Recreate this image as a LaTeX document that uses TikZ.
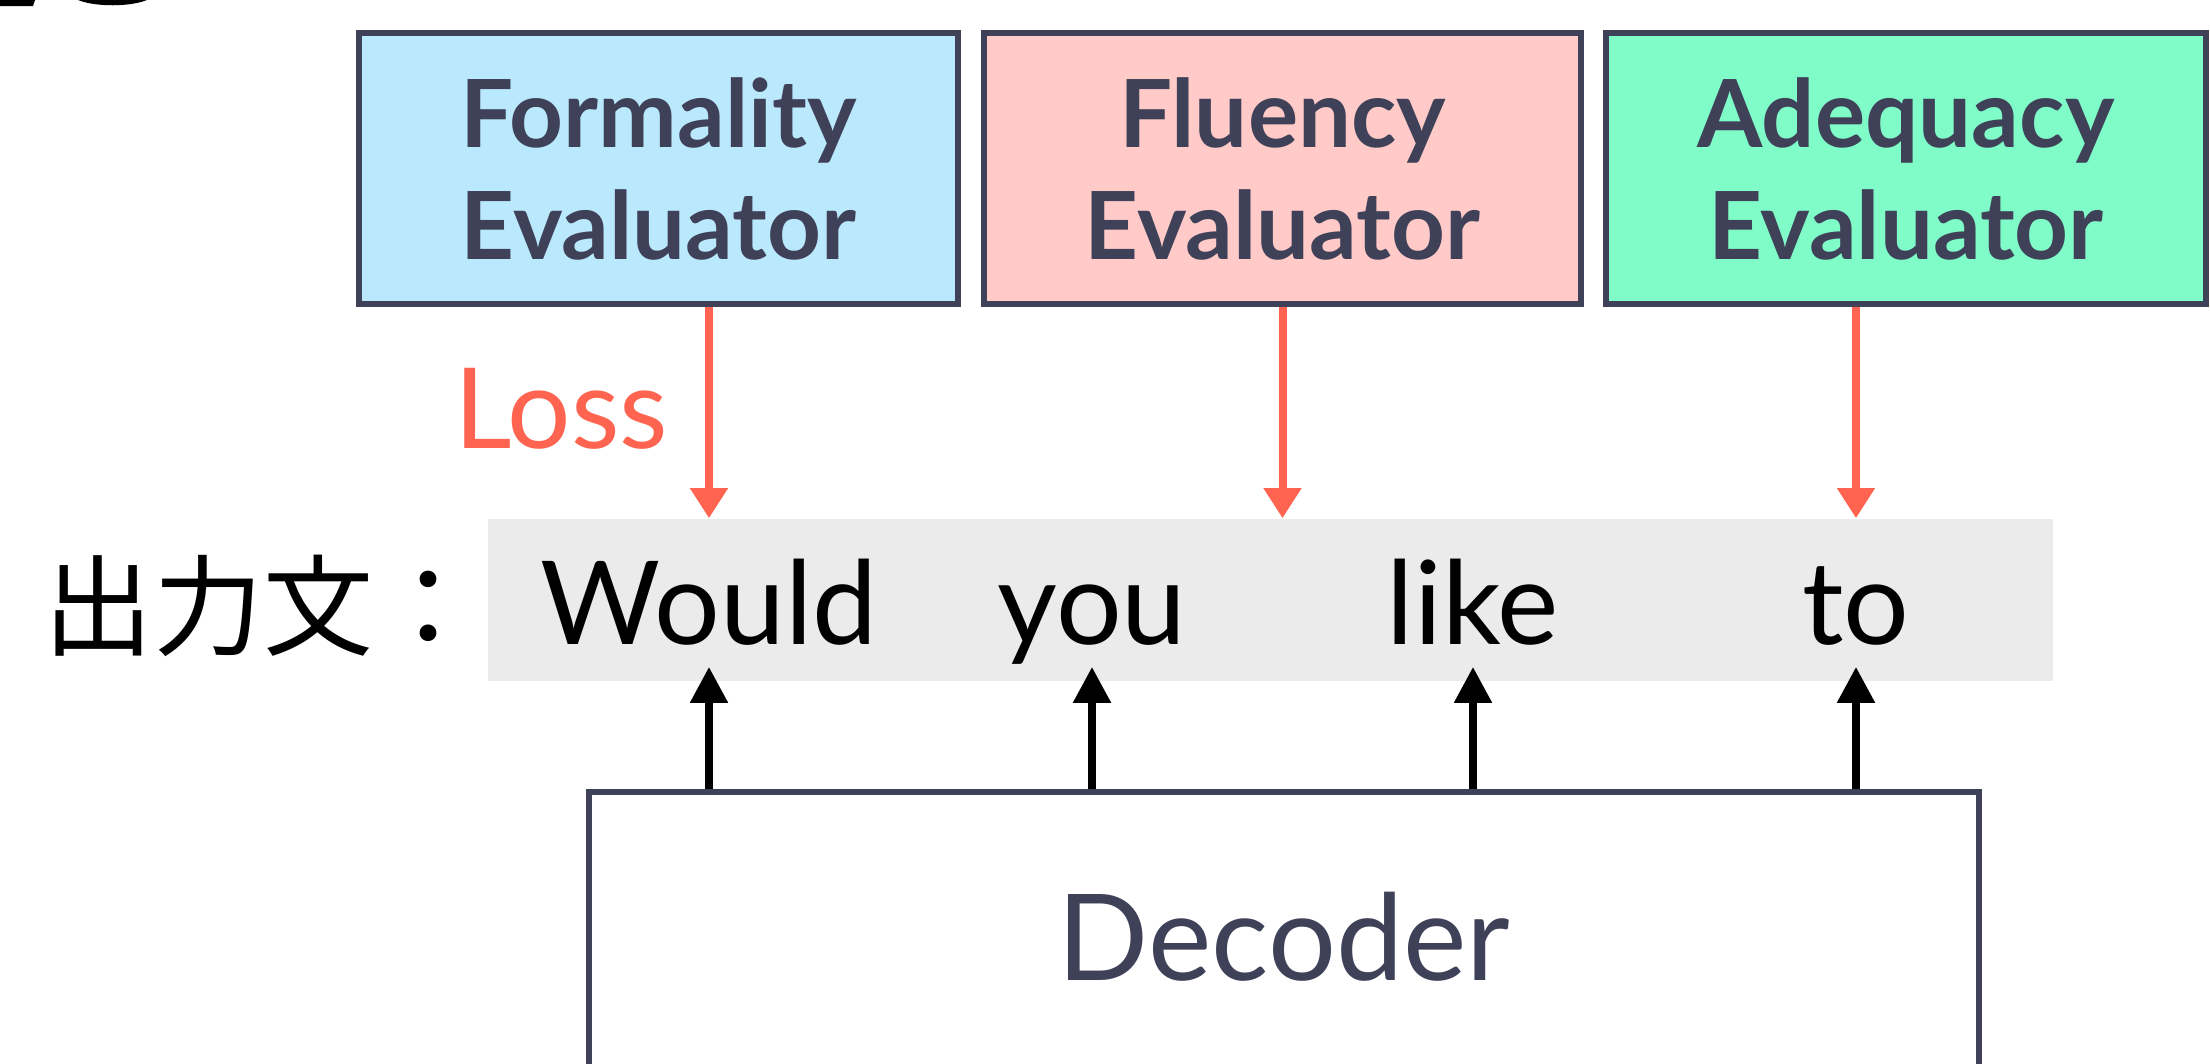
\documentclass[tikz,border=0pt]{standalone}
\usepackage{fontspec}
\setmainfont{Lato}
\newfontfamily\jpfont{Noto Sans CJK JP}
\usetikzlibrary{arrows.meta}
\definecolor{ink}{HTML}{3F4158}
\definecolor{lossred}{HTML}{FF6450}
\definecolor{formalc}{HTML}{BAE9FE}
\definecolor{fluentc}{HTML}{FFCAC7}
\definecolor{adeqc}{HTML}{80FCC8}
\definecolor{bandc}{HTML}{EBEBEB}
\tikzset{
  evalbox/.style={draw=ink, line width=1.5pt, text=ink, align=center, inner sep=0pt,
    minimum height=67.75pt, font=\fontsize{23.5}{28}\selectfont\bfseries},
  word/.style={anchor=base, inner sep=0pt, text=black, font=\fontsize{29}{34}\selectfont},
  lossarrow/.style={draw=lossred, line width=2pt, -{Triangle[width=9pt,length=7.5pt]}},
  outarrow/.style={draw=black, line width=2pt, -{Triangle[width=9pt,length=9pt]}},
}
\begin{document}
\begin{tikzpicture}[x=0.25pt,y=-0.25pt]
\useasboundingbox (0,0) rectangle (2210,1063);
\clip (0,0) rectangle (2210,1063);
% fragments at the top-left edge
\fill[black] (0,0) -- (35,0) -- (33,6) -- (0,6) -- cycle;
\fill[black] (78,0) .. controls (95,7) and (130,7) .. (147,0) -- cycle;
% evaluators
\node[evalbox, fill=formalc, minimum width=149.75pt] (e1) at (658.5,168.5) {Formality\\Evaluator};
\node[evalbox, fill=fluentc, minimum width=149.25pt] (e2) at (1282.5,168.5) {Fluency\\Evaluator};
\node[evalbox, fill=adeqc, minimum width=150pt] (e3) at (1906,168.5) {Adequacy\\Evaluator};
% output band
\node[fill=bandc, minimum width=391.25pt, minimum height=40.5pt, inner sep=0pt] (band) at (1270.5,600) {};
\node[anchor=west, inner sep=0pt, font=\jpfont\fontsize{27.5}{30}\selectfont] (lab) at (43,606) {出力文：};
\node[word] (w1) at (709,644) {Would};
\node[word] (w2) at (1092,644) {you};
\node[word] (w3) at (1473,644) {like};
\node[word] (w4) at (1856,644) {to};
% decoder
\node[draw=ink, line width=1.5pt, minimum width=347.5pt, minimum height=72.5pt, inner sep=0pt,
  text=ink, font=\fontsize{30}{34}\selectfont] (dec) at (1284,937) {Decoder};
% loss arrows
\draw[lossarrow] (e1.south -| w1) -- (band.north -| w1);
\draw[lossarrow] (e2.south) -- (band.north -| e2);
\draw[lossarrow] (e3.south -| w4) -- (band.north -| w4);
\node[anchor=base east, inner sep=0pt, text=lossred, font=\fontsize{28}{30}\selectfont] (loss) at (669,448) {Loss};
% decoder outputs
\foreach \w in {w1,w2,w3,w4}
  \draw[outarrow] (dec.north -| \w) -- ([yshift=3.75pt]band.south -| \w);
\end{tikzpicture}
\end{document}
